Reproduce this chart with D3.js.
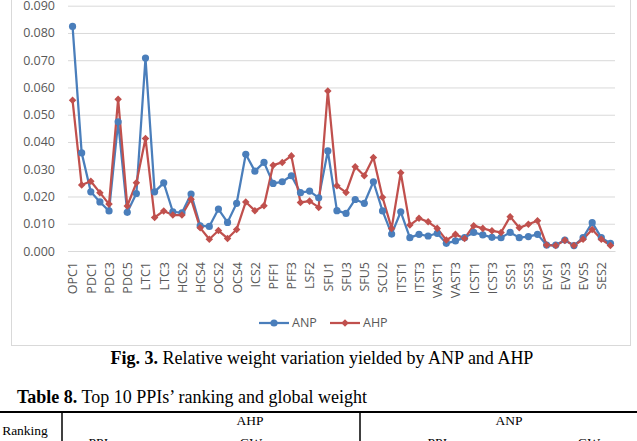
<!DOCTYPE html>
<html>
<head>
<meta charset="utf-8">
<script src="https://cdn.jsdelivr.net/npm/d3@7"></script>
<style>
    body { margin: 0; background: #fff; }
    svg { display: block; }
</style>
</head>
<body>
<div id="chart"></div>
<script>
// Categories (PPIs), only every other one gets a label on the axis
const categories = [
    'OPC1', 'OPC2', 'PDC1', 'PDC2', 'PDC3', 'PDC4', 'PDC5', 'PDC6', 'LTC1', 'LTC2',
    'LTC3', 'HCS1', 'HCS2', 'HCS3', 'HCS4', 'OCS1', 'OCS2', 'OCS3', 'OCS4', 'ICS1',
    'ICS2', 'ICS3', 'PFF1', 'PFF2', 'PFF3', 'LSF1', 'LSF2', 'LSF3', 'SFU1', 'SFU2',
    'SFU3', 'SFU4', 'SFU5', 'SCU1', 'SCU2', 'SCU3', 'ITST1', 'ITST2', 'ITST3', 'ITST4',
    'VAST1', 'VAST2', 'VAST3', 'VAST4', 'ICST1', 'ICST2', 'ICST3', 'ICST4', 'SSS1', 'SSS2',
    'SSS3', 'SSS4', 'EVS1', 'EVS2', 'EVS3', 'EVS4', 'EVS5', 'SES1', 'SES2', 'SES3'
];

const anpValues = [
    0.0824, 0.036, 0.0217, 0.018, 0.0147, 0.0474, 0.0142, 0.0211, 0.0708, 0.0217,
    0.025, 0.0144, 0.014, 0.0209, 0.0092, 0.009, 0.0154, 0.0105, 0.0175, 0.0355,
    0.0293, 0.0325, 0.0248, 0.0254, 0.0276, 0.0214, 0.022, 0.0195, 0.0367, 0.0148,
    0.0138, 0.0189, 0.0175, 0.0254, 0.0147, 0.0062, 0.0144, 0.0049, 0.0061, 0.0055,
    0.0065, 0.0028, 0.0037, 0.0049, 0.0068, 0.0059, 0.005, 0.0049, 0.0068, 0.0049,
    0.0053, 0.0061, 0.0022, 0.0022, 0.004, 0.002, 0.0049, 0.0104, 0.0049, 0.0028
];

const ahpValues = [
    0.0553, 0.0242, 0.0256, 0.0214, 0.0172, 0.0557, 0.0165, 0.025, 0.0413, 0.0123,
    0.0147, 0.0132, 0.0132, 0.019, 0.0085, 0.0043, 0.0075, 0.0046, 0.0079, 0.018,
    0.0148, 0.0166, 0.0315, 0.0325, 0.0349, 0.0178, 0.0183, 0.016, 0.0587, 0.0239,
    0.0215, 0.0309, 0.0276, 0.0343, 0.0197, 0.0083, 0.0287, 0.0095, 0.012, 0.0107,
    0.0083, 0.004, 0.0061, 0.0046, 0.0093, 0.0083, 0.0074, 0.0068, 0.0126, 0.0085,
    0.0098, 0.0111, 0.0022, 0.002, 0.0039, 0.002, 0.0043, 0.0079, 0.0043, 0.002
];

const yTicks = [0, 0.01, 0.02, 0.03, 0.04, 0.05, 0.06, 0.07, 0.08, 0.09];

const seriesNames = ['ANP', 'AHP'];
const seriesColors = ['#4A7EBB', '#C0504D'];

let width = 637, height = 441;
let chartFont = '"Open Sans", sans-serif';
let serifFont = '"Liberation Serif", "Times New Roman", serif';

let svg = d3.select('#chart').append('svg')
    .attr('width', width)
    .attr('height', height);

// Chart frame (Excel-style border)
svg.append('rect')
    .attr('x', 11.5)
    .attr('y', -2)
    .attr('width', 619)
    .attr('height', 347.5)
    .attr('fill', '#fff')
    .attr('stroke', '#d9d9d9');

// Scales
let xScale = d3.scalePoint()
    .domain(categories)
    .range([68, 615])
    .padding(0.5);

let yScale = d3.scaleLinear()
    .domain([0, 0.09])
    .range([251, 5.7]);

// Gridlines + y labels
let yAxis = d3.axisLeft(yScale)
    .tickValues(yTicks)
    .tickFormat(d3.format('.3f'))
    .tickSize(-(615 - 68))
    .tickPadding(13);

let yG = svg.append('g')
    .attr('class', 'y-axis')
    .attr('transform', 'translate(68, 0)')
    .call(yAxis);

yG.select('.domain').remove();
yG.selectAll('line')
    .attr('stroke', '#d9d9d9')
    .attr('stroke-width', 1);
yG.selectAll('text')
    .attr('fill', '#595959')
    .style('font-family', chartFont)
    .style('font-size', '12.5px');

// x axis, labels rotated
let xAxis = d3.axisBottom(xScale)
    .tickValues(categories.filter((d, i) => i % 2 === 0))
    .tickSize(0);

let xG = svg.append('g')
    .attr('class', 'x-axis')
    .attr('transform', 'translate(0, 251)')
    .call(xAxis);

xG.select('.domain')
    .attr('stroke', '#d9d9d9');

xG.selectAll('text')
    .attr('transform', 'rotate(-90)')
    .attr('x', -11)
    .attr('y', 0)
    .attr('dy', '0.35em')
    .style('text-anchor', 'end')
    .attr('fill', '#595959')
    .style('font-family', chartFont)
    .style('font-size', '12.5px');

// Lines + markers
let line = d3.line()
    .x((d, i) => xScale(categories[i]))
    .y(d => yScale(d));

let allSeries = [anpValues, ahpValues];

allSeries.forEach((values, s) => {
    svg.append('path')
        .datum(values)
        .attr('fill', 'none')
        .attr('stroke', seriesColors[s])
        .attr('stroke-width', 2.25)
        .attr('stroke-linejoin', 'round')
        .attr('d', line);
});

// ANP: circles
svg.append('g').selectAll('circle')
    .data(anpValues)
    .join('circle')
    .attr('cx', (d, i) => xScale(categories[i]))
    .attr('cy', d => yScale(d))
    .attr('r', 3.6)
    .attr('fill', seriesColors[0]);

// AHP: diamonds
let diamond = d3.symbol().type(d3.symbolDiamond2).size(36);
svg.append('g').selectAll('path')
    .data(ahpValues)
    .join('path')
    .attr('d', diamond)
    .attr('transform', (d, i) => `translate(${xScale(categories[i])}, ${yScale(d)})`)
    .attr('fill', seriesColors[1]);

// Legend
let legendX = [259, 330];
seriesNames.forEach((name, s) => {
    let g = svg.append('g')
        .attr('transform', `translate(${legendX[s]}, 323)`);
    g.append('line')
        .attr('x1', 0).attr('x2', 30)
        .attr('stroke', seriesColors[s])
        .attr('stroke-width', 2.25);
    if (s === 0) {
        g.append('circle').attr('cx', 15).attr('r', 3.6).attr('fill', seriesColors[s]);
    } else {
        g.append('path').attr('d', diamond).attr('transform', 'translate(15, 0)').attr('fill', seriesColors[s]);
    }
    g.append('text')
        .attr('x', 33)
        .attr('dy', '0.35em')
        .attr('fill', '#595959')
        .style('font-family', chartFont)
        .style('font-size', '12.5px')
        .text(name);
});

// Figure caption
let caption = svg.append('text')
    .attr('x', 322)
    .attr('y', 364)
    .attr('text-anchor', 'middle')
    .style('font-family', serifFont)
    .style('font-size', '18px')
    .attr('fill', '#000');
caption.append('tspan').attr('font-weight', 'bold').text('Fig. 3.');
caption.append('tspan').text(' Relative weight variation yielded by ANP and AHP');

// Table title + top of table (page continues below)
let tableTitle = svg.append('text')
    .attr('x', 17)
    .attr('y', 402.5)
    .style('font-family', serifFont)
    .style('font-size', '18px')
    .attr('fill', '#000');
tableTitle.append('tspan').attr('font-weight', 'bold').text('Table 8.');
tableTitle.append('tspan').text(' Top 10 PPIs\u2019 ranking and global weight');

svg.append('line')
    .attr('x1', 0).attr('x2', width)
    .attr('y1', 412).attr('y2', 412)
    .attr('stroke', '#000')
    .attr('stroke-width', 2);

[62, 360].forEach(x => {
    svg.append('line')
        .attr('x1', x).attr('x2', x)
        .attr('y1', 412).attr('y2', height)
        .attr('stroke', '#000')
        .attr('stroke-width', 1.5);
});

let tableCells = [
    {text: 'Ranking', x: 25, y: 435},
    {text: 'AHP', x: 250, y: 425},
    {text: 'ANP', x: 509, y: 425},
    {text: 'PPIs', x: 101, y: 447},
    {text: 'GW', x: 251, y: 447},
    {text: 'PPIs', x: 440, y: 447},
    {text: 'GW', x: 589, y: 447}
];

svg.append('g').selectAll('text')
    .data(tableCells)
    .join('text')
    .attr('x', d => d.x)
    .attr('y', d => d.y)
    .attr('text-anchor', 'middle')
    .style('font-family', serifFont)
    .style('font-size', '13.5px')
    .attr('fill', '#000')
    .text(d => d.text);
</script>
</body>
</html>
